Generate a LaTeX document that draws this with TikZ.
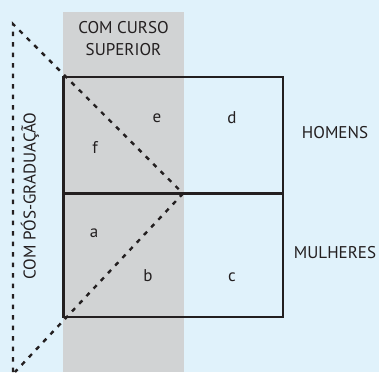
\documentclass[tikz,border=0pt]{standalone}
\usepackage{fontspec}
\setmainfont{PT Sans}
\definecolor{bgblue}{HTML}{E0F2FB}
\definecolor{bandgray}{HTML}{D1D3D4}
\definecolor{ink}{HTML}{231F20}
\tikzset{
  label/.style={text=ink, font=\fontsize{17}{22}\selectfont, inner sep=0pt},
  frame/.style={draw=ink, line width=2.2pt},
  dashline/.style={draw=ink, line width=2.4pt, dash pattern=on 4.5pt off 6pt},
}
\begin{document}
\begin{tikzpicture}[x=1pt,y=-1pt]
  % canvas and grey column
  \fill[bgblue] (0,0) rectangle (379,372);
  \useasboundingbox (0,0) rectangle (379,372);
  \fill[bandgray] (63,12) rectangle (184,372);

  % key points of the grid and the dashed triangle
  \coordinate (tl) at (63.5,77);
  \coordinate (br) at (283,317);
  \coordinate (ml) at (63.5,193.5);
  \coordinate (mr) at (283,193.5);
  \coordinate (apex) at (13,24);
  \coordinate (tip) at (183,193.5);
  \coordinate (foot) at (13,372);
  \coordinate (tail) at (15,372);

  % grid
  \draw[frame] (tl) rectangle (br);
  \draw[frame] (ml) -- (mr);

  % dashed triangle
  \draw[dashline] (foot) -- (apex) -- (tip) -- (tail);

  % headings
  \node[label, align=center] (curso) at (123.5,39) {COM CURSO\\SUPERIOR};
  \node[label] (homens) at (335,133) {HOMENS};
  \node[label] (mulheres) at (335,253) {MULHERES};
  \node[label, rotate=90] (pos) at (30,196) {COM PÓS-GRADUAÇÃO};

  % cell letters
  \node[label] (la) at (94,233) {a};
  \node[label] (lb) at (148,276) {b};
  \node[label] (lc) at (232,277) {c};
  \node[label] (ld) at (232,118) {d};
  \node[label] (le) at (157,118) {e};
  \node[label] (lf) at (95,147) {f};
\end{tikzpicture}
\end{document}
